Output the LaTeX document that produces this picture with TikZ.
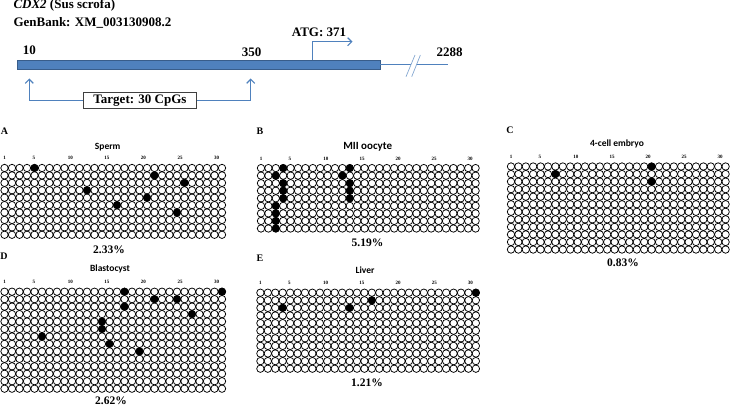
\documentclass[tikz,border=0pt]{standalone}
\usepackage{fontspec}
\setmainfont{Liberation Serif}
\newfontfamily\calibri{Carlito}
\usetikzlibrary{arrows.meta}
\definecolor{geneblue}{HTML}{4F81BD}
\definecolor{geneedge}{HTML}{385D8A}

\newcommand{\cpggrid}[7]{%
  \foreach \cc in {1,...,30}{\foreach \rr in {1,...,#6}{\draw[cpg] ({#2+(\cc-1)*#4},{#3+(\rr-1)*#5}) circle[radius=3.7pt];}}%
  \foreach \cc/\rr in {#7}{\fill ({#2+(\cc-1)*#4},{#3+(\rr-1)*#5}) circle[radius=3.95pt];}%
  \foreach \cc in {1,5,10,15,20,25,30}{\node[colnum] (#1-\cc) at ({#2+(\cc-1)*#4*0.975},{#3-9.7}) {\cc};}%
}

\begin{document}
\begin{tikzpicture}[x=1pt, y=-1pt, >={Straight Barb[length=4pt, width=8pt]},
  every node/.style={font=\bfseries\fontsize{13}{13}\selectfont, inner sep=0pt},
  cpg/.style={line width=0.75pt},
  colnum/.style={font=\bfseries\fontsize{5}{5}\selectfont},
  panel/.style={font=\bfseries\fontsize{10}{10}\selectfont},
  sample/.style={font=\calibri\bfseries\fontsize{9.5}{9.5}\selectfont},
  pct/.style={font=\bfseries\fontsize{11.5}{11.5}\selectfont},
  arr/.style={geneblue, line width=1.2pt}]
  \useasboundingbox (0,0) rectangle (732,406);
  \node[anchor=base west] (gene) at (13.3,9) {\textit{CDX2} (Sus scrofa)};
  \node[anchor=base west] (acc) at (13.3,26.7) {GenBank: XM\_003130908.2};
  \node[draw=geneedge, fill=geneblue, line width=0.8pt, minimum width=363pt, minimum height=9pt] (bar) at (198.5,64.8) {};
  \coordinate (brk1) at (411,64.8);
  \coordinate (brk2) at (416.4,64.8);
  \coordinate (tail) at (448,64.8);
  \draw[geneblue, line width=0.9pt] (bar.east) -- (brk1);
  \draw[geneblue, line width=0.9pt] (brk2) -- (tail);
  \draw[geneblue!70, line width=0.7pt] (406,76.7) -- (415,55);
  \draw[geneblue!70, line width=0.7pt] (411.7,76.7) -- (420.4,55);
  \node (p10) at (29.5,50) {10};
  \node (p350) at (251.7,52) {350};
  \node (p2288) at (449.7,52) {2288};
  \node (patg) at (319,32) {ATG: 371};
  \coordinate (tss) at (312.7,60.3);
  \coordinate (atg) at (352.5,41.7);
  \draw[arr, ->] (tss) |- (atg);
  \node[draw=black!75, fill=white, line width=0.7pt, minimum width=113.4pt, minimum height=15.3pt] (target) at (140,100.3) {Target: 30 CpGs};
  \coordinate (c10) at (29.3,78.5);
  \coordinate (c350) at (250.7,78.5);
  \draw[arr, ->] (target.west) -| (c10);
  \draw[arr, ->] (target.east) -| (c350);

  \node[panel] (la) at (4.5,131) {A};
  \node[sample] (sa) at (107.7,146.7) {Sperm};
  \cpggrid{ga}{4.5}{168}{7.5}{7.42}{10}{5/1,21/2,25/3,12/4,20/5,16/6,24/7}
  \node[pct] (pa) at (109,250) {2.33\%};

  \node[panel] (lb) at (260,131) {B};
  \node[sample, font=\calibri\bfseries\fontsize{11}{11}\selectfont] (sb) at (367.7,146.7) {MII oocyte};
  \cpggrid{gb}{261}{168.1}{7.4}{7.55}{9}{4/1,13/1,3/2,12/2,4/3,4/4,4/5,13/3,13/4,13/5,3/6,3/7,3/8,3/9}
  \node[pct] (pb) at (367.5,243) {5.19\%};

  \node[panel] (lc) at (510,130) {C};
  \node[sample] (sc) at (617,144.3) {4-cell embryo};
  \cpggrid{gc}{511}{166.5}{7.4}{7.55}{12}{20/1,7/2,20/3}
  \node[pct] (pc) at (623,262.7) {0.83\%};

  \node[panel] (ld) at (4,256) {D};
  \node[sample] (sd) at (110,269) {Blastocyst};
  \cpggrid{gd}{4.5}{291.7}{7.5}{7.46}{14}{17/1,30/1,21/2,24/2,17/3,26/4,14/5,14/6,6/7,15/8,19/9}
  \node[pct] (pd) at (111,401) {2.62\%};

  \node[panel] (le) at (260,258.5) {E};
  \node[sample] (se) at (365,270) {Liver};
  \cpggrid{ge}{260.4}{292.7}{7.43}{7.6}{11}{30/1,16/2,4/3,13/3}
  \node[pct] (pe) at (367,382.5) {1.21\%};
\end{tikzpicture}
\end{document}
